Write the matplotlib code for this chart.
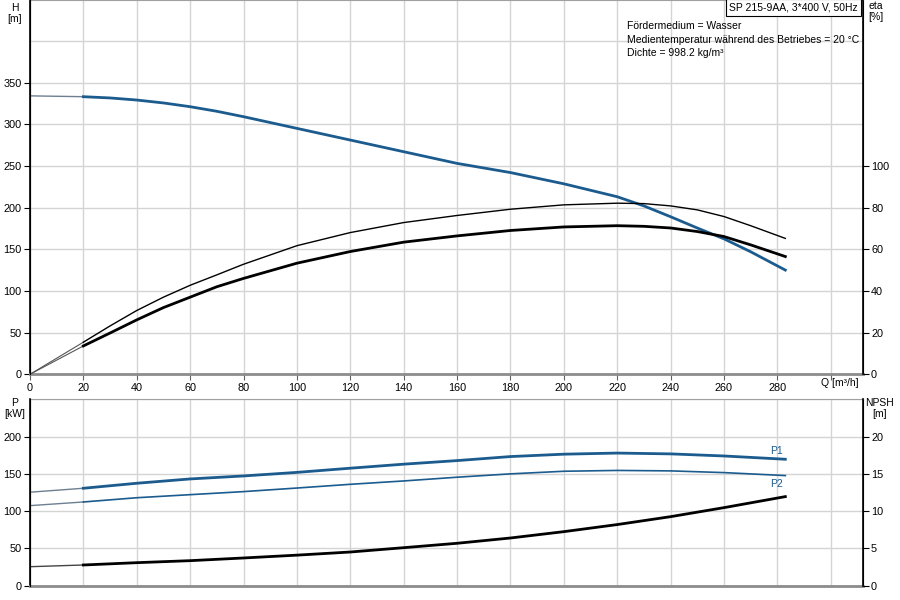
import numpy as np
import matplotlib.pyplot as plt

plt.rcParams['font.family'] = ['Liberation Sans', 'DejaVu Sans']
plt.rcParams['font.size'] = 7.5

# pump curve values
q_top = [0, 20, 30, 40, 50, 60, 70, 80, 100, 120, 140, 160, 180, 200, 220, 230, 240, 250, 260, 270, 283]
head = [334, 333, 331.5, 329, 325.5, 321, 315.5, 309, 295, 281, 267, 253, 242, 228.5, 213, 202,
        189, 175.5, 162.5, 147, 125]
eta_pump = [0, 15.4, 23.2, 30.6, 37, 42.7, 47.7, 52.8, 61.7, 68, 72.8, 76.2, 79.2, 81.3, 82.1, 81.9,
            80.8, 78.9, 75.7, 71.3, 65.2]
eta_total = [0, 13.6, 19.8, 26.1, 32, 37, 42, 46, 53.3, 58.9, 63.4, 66.4, 69, 70.7, 71.3, 71,
             70.2, 68.5, 66.1, 62.1, 56.5]

q_bot = [0, 20, 40, 60, 80, 100, 120, 140, 160, 180, 200, 220, 240, 260, 283]
p1 = [125.4, 130.7, 137.4, 143.2, 147.2, 152, 157.6, 163, 167.8, 173.2, 176.4, 177.9, 176.8, 174, 169.6]
p2 = [107.4, 112.3, 118, 122.1, 126.2, 131, 136, 140.5, 145.5, 150, 153.5, 154.6, 154, 151.7, 147.7]
npsh = [2.55, 2.78, 3.09, 3.36, 3.72, 4.1, 4.52, 5.1, 5.69, 6.4, 7.25, 8.2, 9.26, 10.47, 11.95]

blue = '#1b5b8e'
grid_c = '#d4d4d4'

fig = plt.figure(figsize=(9, 6), dpi=100)
ax1 = fig.add_axes([0.0333, 0.3762, 0.9253, 0.6238])
ax2 = fig.add_axes([0.0333, 0.0238, 0.9253, 0.3107])


def style(ax, ytop, yticks, extra, show_x):
    ax.set_xlim(0, 312)
    ax.set_ylim(0, ytop)
    ax.set_xticks(np.arange(0, 301, 20))
    ax.set_yticks(yticks)
    ax.set_yticks(extra, minor=True)
    ax.grid(True, which='both', color=grid_c, lw=1)
    ax.set_axisbelow(True)
    ax.spines['top'].set_color('#a0a0a0')
    ax.spines['bottom'].set_color('#8c8c8c')
    ax.spines['bottom'].set_linewidth(2)
    ax.spines['left'].set_linewidth(1.2)
    ax.tick_params(axis='y', length=4, width=0.8, pad=2, labelsize=7.8)
    ax.tick_params(axis='y', which='minor', length=0)
    if show_x:
        ax.tick_params(axis='x', length=4, width=0.8, colors='#606060',
                       labelcolor='black', pad=2, labelsize=7.8)
        ax.set_xticklabels([str(v) if v <= 280 else '' for v in range(0, 301, 20)])
    else:
        ax.tick_params(axis='x', length=0)
        ax.set_xticklabels([])


style(ax1, 449, np.arange(0, 351, 50), [400], True)
style(ax2, 250, np.arange(0, 201, 50), [250], False)

ax1r = ax1.twinx()
ax1r.set_ylim(0, 449 * 0.4)
ax1r.set_yticks(np.arange(0, 101, 20))
ax2r = ax2.twinx()
ax2r.set_ylim(0, 25)
ax2r.set_yticks(np.arange(0, 21, 5))
for axr in (ax1r, ax2r):
    axr.spines['right'].set_linewidth(1.2)
    axr.spines['top'].set_visible(False)
    axr.spines['bottom'].set_visible(False)
    axr.tick_params(axis='y', length=4, width=0.8, pad=2, labelsize=7.8)

# head and efficiency
ax1.plot(q_top[:2], head[:2], color='#6d7f90', lw=1)
ax1.plot(q_top[1:], head[1:], color=blue, lw=2)
ax1r.plot(q_top[:2], eta_pump[:2], color='#555555', lw=0.8)
ax1r.plot(q_top[1:], eta_pump[1:], color='black', lw=1)
ax1r.plot(q_top[:2], eta_total[:2], color='#555555', lw=0.8)
ax1r.plot(q_top[1:], eta_total[1:], color='black', lw=2)

# power and npsh
ax2.plot(q_bot[:2], p1[:2], color='#6d7f90', lw=1)
ax2.plot(q_bot[1:], p1[1:], color=blue, lw=2)
ax2.plot(q_bot[:2], p2[:2], color='#6d7f90', lw=1)
ax2.plot(q_bot[1:], p2[1:], color=blue, lw=1.2)
ax2r.plot(q_bot[:2], npsh[:2], color='#444444', lw=1)
ax2r.plot(q_bot[1:], npsh[1:], color='black', lw=2)
ax2.text(q_bot[-1] - 1, p1[-1] + 4, 'P1', color=blue, ha='right', va='bottom')
ax2.text(q_bot[-1] - 1, p2[-1] - 4, 'P2', color=blue, ha='right', va='top')

# axis captions
fig.text(15 / 900, 1 - 3 / 600, 'H\n[m]', ha='center', va='top', linespacing=1.1)
fig.text(876 / 900, 1 - 1 / 600, 'eta\n[%]', ha='center', va='top', linespacing=1.1)
fig.text(15 / 900, 1 - 398 / 600, 'P\n[kW]', ha='center', va='top', linespacing=1.1)
fig.text(880 / 900, 1 - 398 / 600, 'NPSH\n[m]', ha='center', va='top', linespacing=1.1)
fig.text(840 / 900, 1 - 383 / 600, 'Q [m³/h]', ha='center', va='center')

fig.text(858 / 900, 1 - 7.5 / 600, 'SP 215-9AA, 3*400 V, 50Hz', ha='right', va='center',
         bbox=dict(boxstyle='square,pad=0.3', fc='white', ec='black', lw=0.8))
fig.text(627 / 900, 1 - 21 / 600,
         'Fördermedium = Wasser\nMedientemperatur während des Betriebes = 20 °C\nDichte = 998.2 kg/m³',
         ha='left', va='top', linespacing=1.45)

fig.savefig('out.png', dpi=100)
